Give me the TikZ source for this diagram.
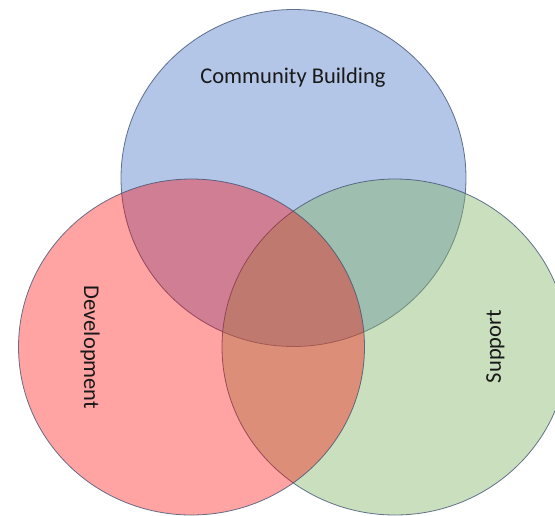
\documentclass[tikz,border=0pt]{standalone}
\usepackage{fontspec}
\setmainfont{Carlito}
\usepackage{xcolor}
\usepackage{tikz}

\definecolor{ringblue}{RGB}{180,198,231}
\definecolor{ringgreen}{RGB}{130,181,102}
\definecolor{ringred}{RGB}{255,0,0}
\definecolor{ringline}{RGB}{66,84,118}

\begin{document}
\begin{tikzpicture}[x=1pt, y=-1pt,
  ring/.style={draw=ringline, draw opacity=0.8, line width=0.8pt},
  setname/.style={font=\fontsize{22.5}{27}\selectfont, text=black!90, inner sep=0pt}
]
\useasboundingbox (0,0) rectangle (555,515);
\clip (0,0) rectangle (555,515);

\fill[white] (0,0) rectangle (555,515);

\draw[ring, fill=ringblue] (293.5,178) ellipse [x radius=172.5, y radius=168.5];
\draw[ring, fill=ringgreen, fill opacity=0.43] (395,347) ellipse [x radius=173, y radius=168];
\draw[ring, fill=ringred, fill opacity=0.36] (191.5,347) ellipse [x radius=173, y radius=168];

\node[setname] (community) at (293,78) {Community Building};
\node[setname, rotate=-90] (development) at (90,347.5) {Development};
\node[setname, rotate=90] (support) at (495.5,346.5) {Support};

\end{tikzpicture}
\end{document}
